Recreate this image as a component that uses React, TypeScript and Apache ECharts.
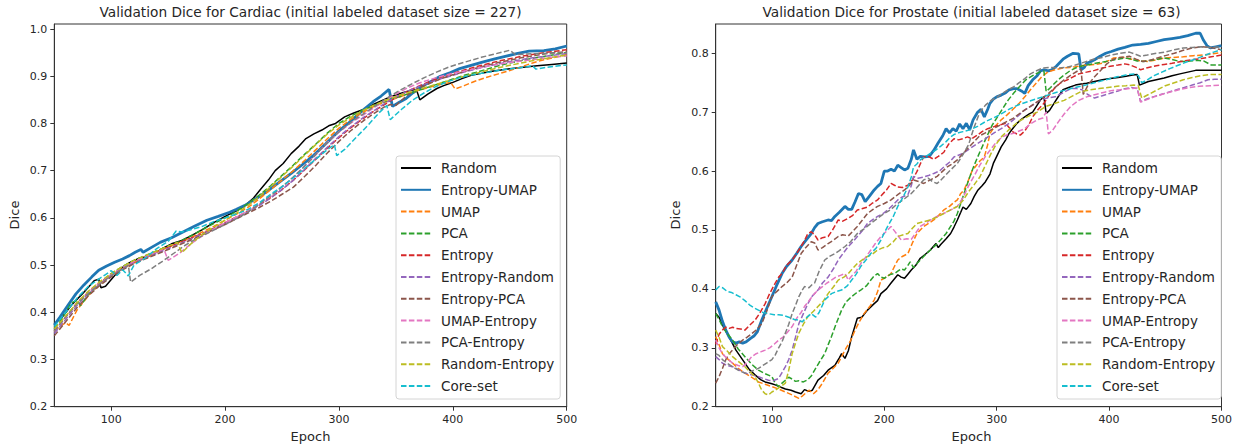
import React, { useEffect, useRef } from "react";
import * as echarts from "echarts";

const SERIES_NAMES = ["Random", "Entropy-UMAP", "UMAP", "PCA", "Entropy", "Entropy-Random", "Entropy-PCA", "UMAP-Entropy", "PCA-Entropy", "Random-Entropy", "Core-set"];
const COLORS = ["#000000", "#1f77b4", "#ff7f0e", "#2ca02c", "#d62728", "#9467bd", "#8c564b", "#e377c2", "#7f7f7f", "#bcbd22", "#17becf"];

const X_TICKS = [100, 200, 300, 400, 500];
const Y_TICKS_CARDIAC = [0.2, 0.3, 0.4, 0.5, 0.6, 0.7, 0.8, 0.9, 1.0];
const Y_TICKS_PROSTATE = [0.2, 0.3, 0.4, 0.5, 0.6, 0.7, 0.8];

const TITLE_CARDIAC = "Validation Dice for Cardiac (initial labeled dataset size = 227)";
const TITLE_PROSTATE = "Validation Dice for Prostate (initial labeled dataset size = 63)";

// ---------------- Cardiac ----------------
const cardiacRandom = [[50,0.375],[57,0.39],[65,0.415],[75,0.44],[85,0.467],[89,0.47],[91,0.452],[95,0.455],[103,0.478],[110,0.495],[116,0.505],[125,0.515],[130,0.517],[136,0.522],[145,0.535],[153,0.545],[162,0.552],[170,0.562],[180,0.575],[190,0.59],[200,0.603],[210,0.615],[217,0.625],[225,0.642],[231,0.66],[238,0.68],[244,0.7],[251,0.715],[258,0.736],[265,0.752],[271,0.768],[278,0.778],[285,0.786],[291,0.795],[297,0.8],[305,0.814],[313,0.822],[322,0.83],[330,0.84],[339,0.85],[347,0.858],[356,0.865],[363,0.87],[368,0.872],[371,0.85],[378,0.862],[386,0.874],[392,0.88],[399,0.886],[408,0.895],[416,0.902],[425,0.906],[433,0.91],[442,0.913],[450,0.916],[462,0.919],[474,0.922],[487,0.925],[500,0.928]];
const cardiacEntropyUmap = [[50,0.373],[55,0.39],[62,0.415],[69,0.439],[76,0.458],[83,0.475],[89,0.489],[96,0.498],[103,0.506],[110,0.513],[116,0.52],[121,0.527],[126,0.533],[128,0.527],[135,0.537],[143,0.548],[153,0.558],[163,0.57],[173,0.582],[184,0.595],[194,0.603],[204,0.612],[210,0.618],[217,0.626],[228,0.642],[238,0.658],[248,0.676],[258,0.694],[268,0.713],[278,0.733],[288,0.756],[299,0.782],[308,0.8],[316,0.817],[323,0.832],[330,0.846],[337,0.858],[344,0.872],[347,0.836],[353,0.845],[359,0.853],[365,0.865],[372,0.877],[380,0.888],[389,0.9],[398,0.908],[406,0.916],[416,0.923],[426,0.93],[436,0.936],[446,0.942],[456,0.948],[467,0.953],[480,0.954],[490,0.958],[500,0.964]];
const cardiacUmap = [[50,0.36],[55,0.37],[60,0.378],[63,0.372],[70,0.405],[80,0.435],[90,0.46],[100,0.478],[110,0.492],[120,0.505],[130,0.515],[140,0.528],[150,0.538],[160,0.548],[170,0.558],[180,0.57],[190,0.582],[200,0.595],[210,0.608],[220,0.622],[230,0.64],[240,0.66],[250,0.68],[260,0.7],[270,0.722],[280,0.745],[290,0.768],[300,0.79],[310,0.808],[320,0.822],[330,0.835],[340,0.845],[350,0.853],[360,0.862],[370,0.87],[380,0.877],[390,0.883],[398,0.887],[402,0.873],[410,0.88],[420,0.89],[430,0.898],[440,0.905],[450,0.912],[460,0.92],[470,0.928],[480,0.935],[490,0.94],[500,0.946]];
const cardiacPca = [[50,0.365],[55,0.38],[60,0.4],[65,0.42],[70,0.425],[73,0.414],[80,0.438],[90,0.462],[100,0.482],[110,0.497],[120,0.51],[130,0.52],[140,0.53],[150,0.54],[160,0.55],[170,0.562],[180,0.575],[190,0.588],[200,0.6],[210,0.614],[220,0.63],[230,0.648],[240,0.668],[250,0.69],[260,0.712],[270,0.735],[280,0.757],[290,0.78],[300,0.8],[310,0.815],[320,0.827],[330,0.837],[340,0.846],[350,0.854],[360,0.862],[370,0.87],[380,0.878],[390,0.886],[400,0.894],[410,0.902],[420,0.908],[430,0.915],[440,0.922],[450,0.928],[460,0.933],[470,0.938],[480,0.942],[490,0.946],[500,0.95]];
const cardiacEntropy = [[50,0.36],[60,0.39],[70,0.42],[80,0.443],[90,0.463],[100,0.48],[110,0.494],[120,0.507],[130,0.518],[140,0.528],[150,0.538],[160,0.548],[170,0.557],[180,0.567],[190,0.578],[200,0.59],[210,0.602],[220,0.614],[230,0.628],[240,0.643],[250,0.66],[260,0.68],[270,0.702],[280,0.725],[290,0.748],[300,0.77],[310,0.79],[320,0.808],[330,0.825],[340,0.84],[350,0.855],[360,0.868],[370,0.879],[380,0.889],[390,0.898],[400,0.906],[410,0.913],[420,0.92],[430,0.926],[440,0.932],[450,0.937],[460,0.942],[470,0.946],[480,0.95],[490,0.953],[500,0.956]];
const cardiacEntropyRandom = [[50,0.355],[60,0.385],[70,0.415],[80,0.44],[90,0.46],[100,0.478],[110,0.492],[120,0.505],[130,0.515],[140,0.525],[150,0.535],[160,0.545],[170,0.555],[180,0.566],[190,0.577],[200,0.588],[210,0.6],[220,0.612],[230,0.626],[240,0.642],[250,0.66],[260,0.68],[270,0.703],[280,0.727],[290,0.75],[300,0.772],[310,0.792],[320,0.81],[330,0.826],[340,0.842],[350,0.856],[360,0.868],[370,0.878],[380,0.887],[390,0.895],[400,0.902],[410,0.909],[420,0.915],[430,0.921],[440,0.926],[450,0.931],[460,0.935],[470,0.939],[480,0.942],[490,0.945],[500,0.948]];
const cardiacEntropyPca = [[50,0.35],[60,0.38],[70,0.41],[80,0.435],[90,0.457],[100,0.475],[110,0.49],[120,0.503],[130,0.513],[140,0.523],[150,0.533],[160,0.543],[170,0.553],[180,0.564],[190,0.575],[200,0.586],[210,0.598],[220,0.61],[230,0.622],[240,0.635],[250,0.65],[260,0.665],[270,0.688],[280,0.712],[290,0.738],[300,0.762],[310,0.784],[320,0.803],[330,0.82],[340,0.835],[345,0.84],[350,0.838],[360,0.86],[370,0.875],[380,0.885],[390,0.895],[400,0.903],[410,0.91],[420,0.917],[430,0.923],[440,0.929],[450,0.934],[460,0.939],[470,0.943],[480,0.947],[490,0.95],[500,0.952]];
const cardiacUmapEntropy = [[50,0.36],[60,0.39],[70,0.418],[80,0.442],[90,0.462],[100,0.48],[110,0.495],[120,0.508],[130,0.518],[140,0.528],[146,0.535],[150,0.51],[160,0.525],[170,0.545],[180,0.562],[190,0.576],[200,0.59],[210,0.602],[220,0.615],[230,0.63],[240,0.646],[250,0.665],[260,0.686],[270,0.71],[280,0.735],[290,0.76],[300,0.782],[310,0.8],[320,0.816],[330,0.832],[340,0.848],[350,0.862],[360,0.875],[370,0.885],[380,0.893],[390,0.9],[400,0.906],[410,0.911],[420,0.916],[430,0.921],[440,0.925],[450,0.929],[460,0.932],[470,0.935],[480,0.938],[490,0.941],[500,0.943]];
const cardiacPcaEntropy = [[50,0.36],[60,0.39],[70,0.418],[80,0.44],[90,0.46],[100,0.478],[110,0.492],[115,0.5],[117,0.464],[125,0.478],[135,0.492],[145,0.508],[155,0.525],[165,0.542],[175,0.556],[185,0.568],[195,0.58],[205,0.592],[215,0.605],[225,0.62],[235,0.638],[245,0.656],[255,0.676],[265,0.698],[275,0.722],[285,0.748],[295,0.772],[305,0.792],[315,0.81],[325,0.826],[335,0.842],[345,0.858],[355,0.872],[365,0.885],[375,0.897],[385,0.908],[395,0.918],[405,0.926],[415,0.933],[425,0.94],[435,0.946],[445,0.952],[450,0.955],[455,0.946],[465,0.947],[475,0.948],[485,0.949],[500,0.95]];
const cardiacRandomEntropy = [[50,0.365],[60,0.392],[70,0.42],[80,0.445],[90,0.465],[100,0.482],[110,0.497],[120,0.51],[130,0.52],[140,0.53],[150,0.54],[158,0.548],[162,0.526],[170,0.545],[180,0.565],[190,0.58],[200,0.595],[210,0.61],[220,0.626],[230,0.645],[240,0.666],[250,0.688],[260,0.71],[270,0.733],[280,0.756],[290,0.778],[300,0.797],[310,0.812],[320,0.826],[330,0.838],[340,0.848],[350,0.857],[360,0.865],[370,0.872],[380,0.879],[390,0.886],[400,0.893],[410,0.9],[420,0.906],[430,0.912],[440,0.918],[450,0.923],[460,0.928],[470,0.933],[480,0.937],[490,0.941],[500,0.945]];
const cardiacCoreSet = [[50,0.37],[60,0.4],[70,0.43],[80,0.455],[90,0.472],[95,0.48],[100,0.488],[105,0.478],[110,0.49],[115,0.477],[120,0.5],[130,0.515],[140,0.535],[150,0.55],[157,0.572],[162,0.57],[170,0.575],[180,0.582],[190,0.592],[200,0.6],[210,0.608],[220,0.618],[230,0.632],[240,0.65],[250,0.666],[260,0.685],[270,0.705],[280,0.725],[290,0.745],[296,0.755],[298,0.732],[305,0.745],[315,0.77],[325,0.795],[335,0.822],[342,0.838],[345,0.808],[355,0.83],[365,0.85],[375,0.865],[385,0.878],[395,0.888],[405,0.896],[415,0.902],[425,0.906],[435,0.91],[445,0.914],[455,0.917],[465,0.92],[470,0.922],[473,0.915],[480,0.918],[490,0.921],[500,0.924]];

// ---------------- Prostate ----------------
const prostateRandom = [[50,0.358],[53,0.352],[57,0.335],[62,0.318],[68,0.296],[72,0.285],[76,0.274],[80,0.263],[85,0.254],[90,0.246],[94,0.242],[100,0.239],[103,0.237],[108,0.233],[112,0.23],[117,0.228],[121,0.225],[126,0.222],[129,0.229],[133,0.226],[136,0.228],[141,0.245],[146,0.253],[150,0.262],[156,0.27],[160,0.283],[162,0.29],[165,0.282],[168,0.295],[171,0.319],[176,0.35],[180,0.352],[185,0.364],[191,0.375],[194,0.38],[197,0.392],[202,0.4],[206,0.41],[212,0.424],[215,0.42],[218,0.418],[221,0.425],[224,0.432],[228,0.44],[232,0.452],[236,0.458],[241,0.466],[246,0.477],[248,0.47],[250,0.475],[255,0.485],[259,0.494],[262,0.505],[265,0.517],[268,0.53],[270,0.539],[273,0.535],[277,0.545],[280,0.557],[283,0.567],[287,0.575],[290,0.582],[294,0.595],[297,0.613],[300,0.625],[304,0.641],[308,0.653],[311,0.664],[315,0.674],[318,0.681],[322,0.688],[325,0.692],[329,0.697],[332,0.7],[336,0.712],[339,0.721],[342,0.726],[344,0.698],[347,0.703],[350,0.712],[355,0.727],[359,0.738],[364,0.742],[370,0.746],[375,0.748],[380,0.749],[387,0.752],[394,0.755],[401,0.757],[408,0.759],[415,0.761],[421,0.763],[425,0.764],[427,0.746],[431,0.749],[435,0.752],[442,0.755],[449,0.758],[456,0.762],[463,0.765],[470,0.768],[477,0.771],[488,0.771],[500,0.771]];
const prostateEntropyUmap = [[50,0.378],[53,0.364],[56,0.345],[59,0.33],[62,0.318],[65,0.31],[68,0.308],[71,0.31],[74,0.308],[77,0.31],[81,0.316],[84,0.32],[87,0.327],[91,0.347],[95,0.365],[100,0.387],[104,0.405],[109,0.426],[113,0.438],[118,0.449],[122,0.46],[126,0.472],[130,0.482],[135,0.494],[138,0.504],[141,0.511],[145,0.514],[150,0.517],[153,0.516],[156,0.523],[160,0.53],[165,0.54],[168,0.535],[171,0.535],[174,0.548],[177,0.562],[180,0.56],[183,0.548],[187,0.558],[191,0.568],[194,0.574],[197,0.579],[200,0.6],[203,0.6],[206,0.603],[209,0.6],[212,0.61],[215,0.606],[218,0.602],[221,0.605],[224,0.62],[226,0.636],[229,0.62],[232,0.625],[236,0.624],[240,0.625],[244,0.635],[248,0.648],[252,0.66],[255,0.672],[258,0.665],[261,0.672],[264,0.668],[267,0.68],[270,0.672],[273,0.681],[276,0.67],[279,0.687],[283,0.7],[286,0.705],[289,0.692],[292,0.705],[294,0.715],[297,0.722],[300,0.726],[304,0.729],[308,0.733],[311,0.738],[315,0.74],[318,0.74],[322,0.736],[325,0.732],[328,0.745],[332,0.755],[336,0.762],[339,0.77],[342,0.772],[346,0.77],[349,0.772],[353,0.778],[356,0.784],[359,0.79],[363,0.795],[368,0.8],[373,0.799],[375,0.772],[378,0.776],[380,0.783],[384,0.786],[387,0.789],[392,0.795],[397,0.8],[402,0.803],[408,0.807],[414,0.81],[421,0.814],[428,0.815],[435,0.817],[442,0.82],[449,0.823],[456,0.825],[463,0.827],[470,0.83],[477,0.834],[481,0.834],[484,0.822],[487,0.813],[490,0.809],[495,0.811],[500,0.813]];
const prostateUmap = [[50,0.319],[53,0.305],[56,0.29],[60,0.282],[65,0.274],[70,0.265],[76,0.257],[82,0.25],[88,0.242],[94,0.238],[100,0.234],[106,0.23],[112,0.225],[118,0.22],[124,0.214],[127,0.218],[130,0.223],[133,0.228],[137,0.222],[141,0.229],[145,0.24],[150,0.257],[155,0.266],[159,0.274],[162,0.285],[165,0.296],[170,0.312],[174,0.33],[178,0.345],[182,0.358],[187,0.37],[191,0.381],[194,0.395],[197,0.415],[200,0.418],[203,0.422],[206,0.426],[209,0.438],[212,0.449],[216,0.455],[221,0.46],[225,0.478],[229,0.494],[232,0.5],[235,0.506],[240,0.512],[244,0.517],[248,0.524],[253,0.534],[258,0.54],[262,0.547],[265,0.551],[268,0.562],[271,0.568],[275,0.585],[278,0.6],[282,0.61],[285,0.617],[289,0.624],[292,0.645],[294,0.664],[298,0.675],[304,0.687],[309,0.695],[314,0.704],[320,0.715],[325,0.726],[330,0.738],[335,0.749],[340,0.76],[346,0.769],[352,0.772],[359,0.775],[365,0.776],[370,0.777],[375,0.779],[380,0.78],[387,0.781],[394,0.783],[400,0.788],[404,0.792],[409,0.793],[414,0.793],[420,0.79],[425,0.788],[430,0.787],[435,0.786],[442,0.789],[449,0.792],[457,0.793],[466,0.794],[475,0.796],[484,0.797],[492,0.799],[500,0.801]];
const prostatePca = [[50,0.358],[53,0.348],[56,0.336],[60,0.325],[65,0.313],[70,0.298],[76,0.285],[82,0.272],[88,0.262],[94,0.256],[100,0.251],[103,0.24],[106,0.234],[109,0.24],[112,0.245],[115,0.25],[118,0.247],[121,0.243],[124,0.244],[128,0.242],[132,0.246],[135,0.252],[138,0.262],[142,0.275],[147,0.29],[150,0.305],[153,0.319],[157,0.34],[162,0.364],[166,0.378],[171,0.387],[175,0.393],[179,0.398],[184,0.405],[188,0.415],[191,0.422],[194,0.426],[197,0.42],[200,0.418],[203,0.422],[206,0.425],[209,0.426],[212,0.43],[215,0.434],[218,0.432],[221,0.44],[223,0.446],[226,0.436],[229,0.443],[232,0.449],[236,0.457],[241,0.466],[245,0.473],[250,0.483],[255,0.494],[259,0.506],[262,0.515],[265,0.528],[268,0.545],[272,0.568],[276,0.59],[280,0.61],[284,0.628],[288,0.645],[292,0.662],[296,0.678],[300,0.69],[305,0.705],[310,0.72],[315,0.732],[321,0.745],[326,0.755],[332,0.762],[338,0.768],[342,0.77],[344,0.735],[348,0.742],[352,0.75],[356,0.757],[360,0.763],[365,0.77],[370,0.775],[375,0.778],[380,0.78],[388,0.783],[397,0.786],[405,0.789],[414,0.792],[420,0.79],[425,0.787],[431,0.786],[437,0.788],[443,0.79],[449,0.792],[455,0.79],[461,0.787],[466,0.786],[472,0.787],[478,0.788],[484,0.787],[488,0.783],[491,0.78],[495,0.78],[500,0.78]];
const prostateEntropy = [[50,0.306],[53,0.323],[56,0.33],[59,0.335],[62,0.333],[65,0.335],[68,0.333],[72,0.332],[76,0.33],[80,0.338],[85,0.347],[89,0.358],[94,0.375],[98,0.392],[103,0.41],[106,0.42],[109,0.426],[113,0.44],[118,0.449],[122,0.46],[126,0.472],[129,0.482],[132,0.494],[135,0.497],[138,0.492],[141,0.483],[145,0.487],[150,0.489],[154,0.5],[159,0.517],[163,0.515],[168,0.52],[172,0.525],[176,0.534],[180,0.536],[185,0.539],[189,0.545],[194,0.551],[198,0.56],[202,0.568],[206,0.579],[209,0.576],[212,0.573],[216,0.572],[221,0.576],[225,0.585],[229,0.599],[232,0.612],[235,0.624],[239,0.625],[244,0.62],[248,0.625],[253,0.632],[257,0.645],[262,0.655],[266,0.653],[270,0.655],[274,0.658],[278,0.655],[282,0.66],[287,0.667],[292,0.672],[297,0.675],[302,0.678],[308,0.681],[311,0.674],[314,0.667],[318,0.663],[321,0.661],[325,0.668],[329,0.68],[332,0.692],[337,0.705],[342,0.715],[347,0.73],[352,0.742],[357,0.75],[363,0.755],[368,0.76],[373,0.765],[380,0.768],[387,0.771],[394,0.775],[401,0.778],[408,0.78],[414,0.782],[419,0.78],[424,0.776],[428,0.772],[435,0.776],[442,0.779],[449,0.781],[456,0.783],[464,0.786],[473,0.789],[482,0.791],[491,0.794],[500,0.797]];
const prostateEntropyRandom = [[50,0.285],[53,0.28],[56,0.274],[60,0.27],[65,0.268],[70,0.263],[76,0.257],[82,0.254],[88,0.251],[92,0.248],[97,0.245],[101,0.244],[106,0.248],[109,0.258],[112,0.268],[115,0.28],[118,0.296],[121,0.318],[124,0.341],[128,0.358],[132,0.375],[136,0.388],[141,0.398],[145,0.41],[150,0.42],[155,0.435],[159,0.449],[164,0.462],[168,0.472],[172,0.48],[176,0.489],[181,0.5],[185,0.511],[190,0.518],[194,0.523],[199,0.528],[203,0.534],[208,0.543],[212,0.551],[216,0.556],[221,0.56],[224,0.575],[226,0.591],[230,0.588],[235,0.59],[240,0.593],[244,0.596],[249,0.6],[253,0.607],[258,0.615],[262,0.624],[266,0.627],[270,0.63],[276,0.638],[283,0.647],[290,0.655],[297,0.664],[304,0.672],[311,0.681],[318,0.692],[325,0.704],[332,0.712],[339,0.721],[345,0.724],[352,0.726],[359,0.733],[366,0.74],[371,0.74],[376,0.738],[381,0.73],[387,0.724],[394,0.728],[401,0.732],[408,0.736],[414,0.74],[420,0.742],[425,0.74],[428,0.718],[433,0.722],[439,0.726],[446,0.73],[453,0.734],[460,0.738],[467,0.742],[474,0.746],[481,0.75],[488,0.755],[494,0.756],[500,0.756]];
const prostateEntropyPca = [[50,0.24],[53,0.251],[56,0.265],[59,0.28],[62,0.29],[65,0.296],[69,0.305],[74,0.313],[78,0.318],[82,0.324],[86,0.33],[91,0.341],[95,0.36],[100,0.387],[104,0.395],[109,0.404],[113,0.41],[118,0.42],[122,0.44],[126,0.46],[130,0.47],[135,0.48],[138,0.478],[141,0.466],[145,0.47],[150,0.477],[155,0.483],[159,0.489],[163,0.492],[168,0.49],[172,0.498],[176,0.506],[181,0.518],[185,0.528],[190,0.535],[194,0.54],[200,0.545],[206,0.551],[212,0.56],[218,0.568],[222,0.575],[226,0.585],[231,0.582],[235,0.579],[241,0.585],[247,0.591],[252,0.6],[256,0.607],[261,0.613],[265,0.619],[270,0.63],[275,0.64],[280,0.65],[285,0.66],[290,0.665],[295,0.67],[300,0.675],[308,0.683],[315,0.69],[322,0.7],[330,0.71],[338,0.72],[345,0.73],[352,0.742],[360,0.755],[366,0.763],[372,0.77],[375,0.773],[377,0.73],[381,0.745],[386,0.758],[392,0.77],[398,0.782],[404,0.79],[410,0.793],[418,0.795],[424,0.79],[430,0.786],[436,0.788],[443,0.792],[450,0.796],[458,0.8],[466,0.805],[474,0.809],[482,0.811],[490,0.81],[500,0.806]];
const prostateUmapEntropy = [[50,0.313],[53,0.3],[56,0.29],[60,0.282],[65,0.274],[70,0.27],[74,0.268],[78,0.275],[82,0.285],[86,0.29],[90,0.293],[94,0.296],[98,0.3],[102,0.306],[106,0.313],[110,0.318],[114,0.327],[118,0.336],[122,0.35],[126,0.36],[129,0.37],[133,0.38],[137,0.39],[141,0.398],[145,0.404],[149,0.41],[153,0.415],[157,0.42],[161,0.423],[165,0.426],[168,0.415],[171,0.422],[175,0.43],[179,0.443],[184,0.455],[188,0.466],[192,0.477],[197,0.489],[202,0.498],[206,0.506],[210,0.496],[215,0.483],[220,0.485],[224,0.484],[228,0.495],[232,0.506],[237,0.512],[241,0.517],[246,0.522],[250,0.526],[255,0.53],[260,0.535],[265,0.54],[270,0.555],[275,0.575],[280,0.592],[285,0.61],[290,0.625],[295,0.638],[300,0.65],[305,0.658],[310,0.662],[315,0.664],[320,0.668],[325,0.672],[330,0.68],[336,0.687],[341,0.69],[344,0.7],[346,0.663],[350,0.67],[355,0.684],[360,0.697],[366,0.71],[373,0.72],[380,0.726],[388,0.73],[396,0.734],[403,0.737],[410,0.738],[418,0.74],[425,0.741],[428,0.717],[432,0.72],[440,0.726],[448,0.731],[456,0.735],[464,0.739],[472,0.742],[480,0.744],[490,0.745],[500,0.746]];
const prostatePcaEntropy = [[50,0.29],[53,0.287],[56,0.28],[60,0.274],[65,0.268],[70,0.262],[76,0.257],[80,0.258],[84,0.262],[88,0.265],[92,0.27],[96,0.275],[100,0.28],[103,0.288],[106,0.3],[109,0.31],[112,0.325],[115,0.34],[118,0.358],[121,0.372],[124,0.387],[127,0.398],[129,0.404],[133,0.402],[136,0.408],[138,0.41],[142,0.43],[147,0.449],[151,0.455],[156,0.46],[160,0.465],[165,0.472],[170,0.48],[176,0.494],[182,0.502],[188,0.511],[194,0.52],[200,0.528],[206,0.535],[212,0.545],[218,0.553],[224,0.562],[229,0.572],[235,0.585],[239,0.588],[243,0.582],[247,0.579],[251,0.586],[255,0.594],[259,0.602],[265,0.613],[270,0.628],[275,0.645],[280,0.675],[285,0.7],[290,0.712],[295,0.72],[300,0.725],[305,0.732],[310,0.738],[315,0.743],[320,0.75],[325,0.757],[330,0.765],[335,0.77],[341,0.775],[348,0.776],[355,0.775],[362,0.776],[370,0.78],[378,0.785],[386,0.79],[394,0.793],[402,0.797],[410,0.8],[418,0.802],[424,0.798],[428,0.795],[434,0.797],[442,0.8],[450,0.802],[458,0.806],[466,0.809],[474,0.81],[482,0.811],[490,0.81],[500,0.811]];
const prostateRandomEntropy = [[50,0.33],[53,0.318],[56,0.302],[60,0.295],[65,0.285],[70,0.277],[76,0.268],[80,0.26],[85,0.251],[88,0.24],[91,0.228],[94,0.222],[97,0.22],[100,0.225],[103,0.228],[106,0.232],[109,0.236],[112,0.24],[115,0.262],[118,0.29],[121,0.308],[124,0.325],[128,0.34],[132,0.353],[137,0.362],[141,0.37],[146,0.38],[150,0.392],[155,0.404],[159,0.415],[164,0.42],[168,0.426],[172,0.435],[176,0.443],[181,0.45],[185,0.455],[190,0.46],[194,0.466],[199,0.47],[203,0.472],[208,0.48],[212,0.489],[217,0.492],[221,0.494],[225,0.503],[229,0.511],[235,0.514],[241,0.517],[247,0.522],[253,0.528],[259,0.534],[265,0.54],[270,0.55],[275,0.565],[280,0.577],[285,0.59],[290,0.61],[295,0.63],[300,0.647],[305,0.66],[312,0.672],[320,0.685],[328,0.693],[336,0.7],[344,0.71],[352,0.715],[360,0.72],[368,0.728],[375,0.735],[383,0.738],[391,0.74],[399,0.742],[407,0.744],[415,0.745],[422,0.746],[426,0.745],[429,0.724],[435,0.73],[442,0.737],[450,0.745],[458,0.75],[466,0.755],[474,0.759],[482,0.762],[490,0.764],[500,0.764]];
const prostateCoreSet = [[50,0.398],[53,0.404],[56,0.402],[60,0.396],[64,0.394],[68,0.39],[72,0.386],[76,0.38],[80,0.373],[84,0.368],[88,0.364],[92,0.36],[97,0.358],[102,0.356],[106,0.356],[110,0.355],[115,0.352],[120,0.348],[124,0.347],[127,0.344],[130,0.35],[135,0.358],[139,0.352],[142,0.36],[147,0.381],[153,0.392],[158,0.396],[162,0.398],[167,0.405],[171,0.415],[175,0.425],[179,0.438],[184,0.45],[188,0.46],[193,0.47],[197,0.483],[200,0.495],[203,0.506],[208,0.523],[212,0.54],[217,0.557],[221,0.573],[224,0.59],[226,0.607],[229,0.612],[232,0.619],[237,0.625],[241,0.63],[246,0.636],[250,0.642],[255,0.65],[259,0.658],[262,0.662],[266,0.665],[270,0.667],[276,0.67],[283,0.676],[290,0.684],[297,0.69],[304,0.697],[312,0.706],[320,0.713],[328,0.718],[336,0.723],[344,0.728],[352,0.733],[360,0.737],[368,0.741],[375,0.744],[383,0.748],[391,0.752],[399,0.756],[407,0.76],[415,0.763],[422,0.765],[426,0.762],[429,0.75],[434,0.755],[440,0.762],[447,0.768],[454,0.774],[462,0.78],[470,0.786],[478,0.791],[486,0.797],[493,0.802],[500,0.806]];

const CARDIAC = [cardiacRandom, cardiacEntropyUmap, cardiacUmap, cardiacPca, cardiacEntropy, cardiacEntropyRandom, cardiacEntropyPca, cardiacUmapEntropy, cardiacPcaEntropy, cardiacRandomEntropy, cardiacCoreSet];
const PROSTATE = [prostateRandom, prostateEntropyUmap, prostateUmap, prostatePca, prostateEntropy, prostateEntropyRandom, prostateEntropyPca, prostateUmapEntropy, prostatePcaEntropy, prostateRandomEntropy, prostateCoreSet];

const FONT = '"DejaVu Sans", sans-serif';
const TEXT_COLOR = "#262626";
const AXIS_COLOR = "#333333";

function lineStyleFor(i: number) {
  if (i === 0) return { color: COLORS[i], width: 1.5, type: "solid" as const };
  if (i === 1) return { color: COLORS[i], width: 2.8, type: "solid" as const };
  return { color: COLORS[i], width: 1.5, type: [5.5, 2.4] as any };
}

function makeSeries(sets: number[][][], axisIndex: number) {
  return sets.map((data, i) => ({
    name: SERIES_NAMES[i],
    type: "line",
    xAxisIndex: axisIndex,
    yAxisIndex: axisIndex,
    data,
    symbol: "none",
    showSymbol: false,
    smooth: false,
    lineStyle: lineStyleFor(i),
    itemStyle: { color: COLORS[i] },
    emphasis: { disabled: true },
    z: 2,
  }));
}

function xAxisFor(gridIndex: number) {
  return {
    type: "value",
    gridIndex,
    min: 50,
    max: 500,
    axisLine: { show: true, onZero: false, lineStyle: { color: AXIS_COLOR, width: 1 } },
    axisTick: { show: true, length: 4, customValues: X_TICKS, lineStyle: { color: AXIS_COLOR, width: 1 } },
    axisLabel: { customValues: X_TICKS, fontSize: 11, color: TEXT_COLOR, fontFamily: FONT, margin: 7 },
    splitLine: { show: false },
  };
}

function yAxisFor(gridIndex: number, max: number, ticks: number[]) {
  return {
    type: "value",
    gridIndex,
    min: 0.2,
    max,
    axisLine: { show: true, onZero: false, lineStyle: { color: AXIS_COLOR, width: 1 } },
    axisTick: { show: true, length: 4, customValues: ticks, lineStyle: { color: AXIS_COLOR, width: 1 } },
    axisLabel: {
      customValues: ticks,
      fontSize: 11,
      color: TEXT_COLOR,
      fontFamily: FONT,
      margin: 7,
      formatter: (v: number) => v.toFixed(1),
    },
    splitLine: { show: false },
  };
}

function legendFor(left: number) {
  return {
    data: SERIES_NAMES,
    orient: "vertical",
    left,
    top: 156,
    itemWidth: 30,
    itemHeight: 14,
    itemGap: 7.8,
    padding: [5, 6, 6, 4],
    backgroundColor: "rgba(255,255,255,0.85)",
    borderColor: "#d4d4d4",
    borderWidth: 1,
    borderRadius: 3,
    selectedMode: false,
    itemStyle: { opacity: 0, borderWidth: 0 },
    textStyle: { fontSize: 13.5, color: TEXT_COLOR, fontFamily: FONT, lineHeight: 14, padding: [0, 0, 0, 5] },
  };
}

function textEl(text: string, x: number, y: number, size: number, rotation = 0) {
  return {
    type: "text",
    x,
    y,
    rotation,
    style: { text, font: `${size}px ${FONT}`, fill: TEXT_COLOR, align: "center", verticalAlign: "middle" },
    z: 10,
  };
}

export default function App() {
  const ref = useRef<HTMLDivElement>(null);
  useEffect(() => {
    if (!ref.current) return;
    const chart = echarts.init(ref.current, null, { renderer: "svg" });
    const option: any = {
      animation: false,
      backgroundColor: "#ffffff",
      textStyle: { fontFamily: FONT },
      grid: [
        { left: 54.3, top: 24, width: 512.4, height: 382.7, show: true, borderColor: AXIS_COLOR, borderWidth: 1, backgroundColor: "transparent" },
        { left: 715.7, top: 24, width: 511.6, height: 382.7, show: true, borderColor: AXIS_COLOR, borderWidth: 1, backgroundColor: "transparent" },
      ],
      xAxis: [xAxisFor(0), xAxisFor(1)],
      yAxis: [yAxisFor(0, 1.0106, Y_TICKS_CARDIAC), yAxisFor(1, 0.8497, Y_TICKS_PROSTATE)],
      legend: [legendFor(396), legendFor(1057)],
      series: [...makeSeries(CARDIAC, 0), ...makeSeries(PROSTATE, 1)],
      graphic: [
        textEl(TITLE_CARDIAC, 310.5, 12, 13.7),
        textEl(TITLE_PROSTATE, 971.5, 12, 13.7),
        textEl("Dice", 14.5, 215, 13, Math.PI / 2),
        textEl("Dice", 675, 215, 13, Math.PI / 2),
        textEl("Epoch", 310.5, 436.5, 13),
        textEl("Epoch", 971.5, 436.5, 13),
      ],
    };
    chart.setOption(option);
    return () => chart.dispose();
  }, []);
  return (
    <div
      ref={ref}
      style={{ position: "fixed", left: 0, top: 0, width: 1235, height: 444, background: "#ffffff" }}
    />
  );
}
